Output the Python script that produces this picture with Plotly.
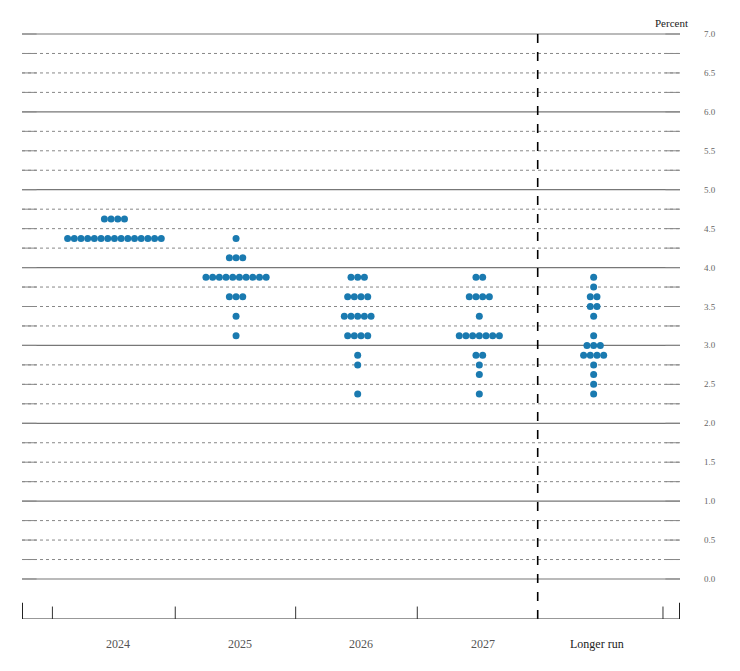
import numpy as np
import plotly.graph_objects as go

# FOMC dot plot: participants' rate projections (midpoints of target ranges)
categories = ["2024", "2025", "2026", "2027", "Longer run"]
cat_x = [0, 1, 2, 3, 3.94]

rates = {
    "2024": [(4.625, 4), (4.375, 15)],
    "2025": [(4.375, 1), (4.125, 3), (3.875, 10), (3.625, 3), (3.375, 1), (3.125, 1)],
    "2026": [(3.875, 3), (3.625, 4), (3.375, 5), (3.125, 4), (2.875, 1), (2.75, 1), (2.375, 1)],
    "2027": [(3.875, 2), (3.625, 4), (3.375, 1), (3.125, 7), (2.875, 2), (2.75, 1), (2.625, 1), (2.375, 1)],
    "Longer run": [(3.875, 1), (3.75, 1), (3.625, 2), (3.5, 2), (3.375, 1), (3.125, 1), (3.0, 3),
                   (2.875, 4), (2.75, 1), (2.625, 1), (2.5, 1), (2.375, 1)],
}

y_ticks = [0.0, 0.5, 1.0, 1.5, 2.0, 2.5, 3.0, 3.5, 4.0, 4.5, 5.0, 5.5, 6.0, 6.5, 7.0]

dot_gap = 0.055
xs, ys = [], []
for name, cx in zip(categories, cat_x):
    for rate, n in rates[name]:
        for j in range(n):
            xs.append(cx - 0.03 + (j - (n - 1) / 2) * dot_gap)
            ys.append(rate)

x0, x1 = -0.79, 4.62
y_bot, y_top = -0.514, 7.18

fig = go.Figure()

# grid lines every quarter point
for g in np.arange(0, 7.01, 0.25):
    solid = abs(g - round(g)) < 1e-9
    fig.add_shape(type="line", x0=x0, x1=x1, y0=g, y1=g,
                  line=dict(color="#777" if solid else "#555", width=1.2 if solid else 0.7,
                            dash="solid" if solid else "dot"), layer="below")
    for a, b in [(x0, x0 + 0.12), (x1 - 0.12, x1)]:
        fig.add_shape(type="line", x0=a, x1=b, y0=g, y1=g,
                      line=dict(color="#888", width=1), layer="below")

fig.add_trace(go.Scatter(x=xs, y=ys, mode="markers",
                         marker=dict(color="#1a7ab0", size=7, line=dict(width=0)),
                         hoverinfo="y", showlegend=False))

# dashed separator before longer run
fig.add_shape(type="line", x0=3.45, x1=3.45, y0=y_bot, y1=7.0,
              line=dict(color="black", width=1.6, dash="dash"))

# bottom axis with ticks
fig.add_shape(type="line", x0=x0, x1=x1, y0=y_bot, y1=y_bot, line=dict(color="#333", width=1.2))
for t in [-0.54, 0.47, 1.46, 2.46, 4.48]:
    fig.add_shape(type="line", x0=t, x1=t, y0=y_bot, y1=y_bot + 0.16, line=dict(color="#333", width=1))
for t in [x0, x1]:
    fig.add_shape(type="line", x0=t, x1=t, y0=y_bot, y1=y_bot + 0.21, line=dict(color="#222", width=2))

for name, cx in zip(categories, cat_x):
    fig.add_annotation(x=cx, y=0, yref="paper", yshift=-25, text=name, showarrow=False,
                       yanchor="middle",
                       font=dict(family="Liberation Serif", size=12,
                                 color="#222" if name == "Longer run" else "#555"))

for t in y_ticks:
    fig.add_annotation(x=1.0, xref="paper", xshift=38, y=t, text=f"{t:.1f}", showarrow=False,
                       font=dict(family="Liberation Serif", size=9, color="#666"))

fig.add_annotation(x=1.0, xref="paper", y=7.0, yanchor="bottom", xanchor="right", xshift=10,
                   yshift=3, text="Percent", showarrow=False,
                   font=dict(family="Liberation Serif", size=11, color="#222"))

fig.update_xaxes(range=[x0, x1], visible=False)
fig.update_yaxes(range=[y_bot, y_top], visible=False)
fig.update_layout(width=740, height=671, margin=dict(l=14, r=68, t=12, b=60, autoexpand=False),
                  plot_bgcolor="white", paper_bgcolor="white")

fig.write_html("out.html")
